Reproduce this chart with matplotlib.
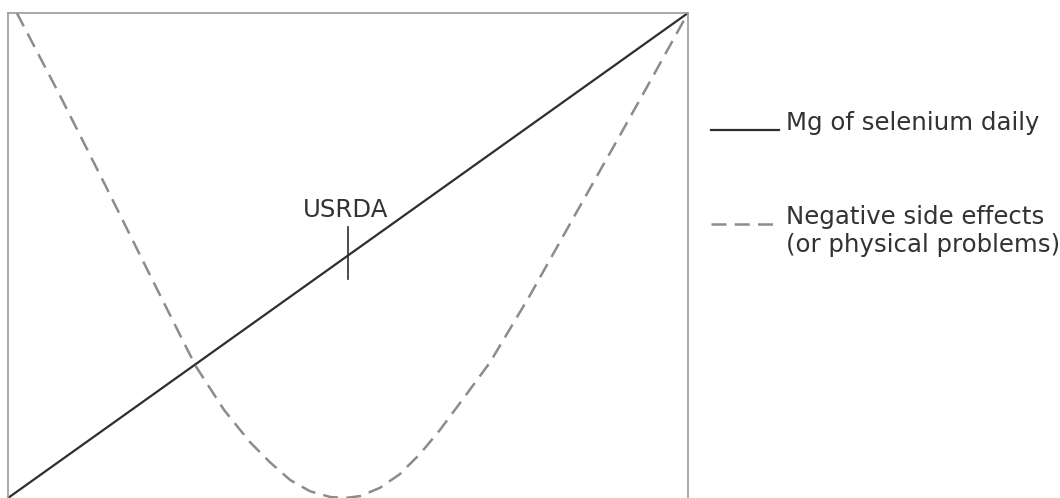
import matplotlib
matplotlib.use("Agg")
import matplotlib.pyplot as plt
from matplotlib.lines import Line2D

# ---- data (axis units 0..100) ----
dose_x = [0, 100]
dose_y = [0, 100]

side_x = [1.3, 7.6, 14.3, 20.9, 27.6, 31.8, 35.6, 38.5, 41.5, 44.4, 47.4, 49.6,
          51.8, 54.7, 57.6, 60.6, 63.5, 66.8, 70.9, 76.8, 83.4, 90.0, 95.1, 100.0]
side_y = [100.0, 83.1, 64.5, 45.9, 27.2, 18.1, 11.5, 7.4, 3.7, 1.4, 0.2, 0.0,
          0.4, 2.1, 4.9, 9.1, 14.0, 20.2, 28.0, 41.9, 58.4, 74.8, 87.6, 100.0]

usrda_x = 50.0
usrda_tick = [45.2, 55.9]
usrda_label = "USRDA"

legend_labels = ["Mg of selenium daily", "Negative side effects\n(or physical problems)"]

W, H = 1060, 498
fig = plt.figure(figsize=(W / 100, H / 100), dpi=100)
fig.patch.set_facecolor("white")

# axes box: px left 8, right 688, top 13, bottom 498
ax = fig.add_axes([8 / W, 0.0, 680 / W, 485 / H])
ax.set_xlim(0, 100)
ax.set_ylim(0, 100)
ax.set_xticks([])
ax.set_yticks([])
for name, sp in ax.spines.items():
    sp.set_color("#9a9a9a")
    sp.set_linewidth(1.2)
ax.spines["bottom"].set_visible(False)

text_color = "#333333"
solid_color = "#2e2e2e"
dash_color = "#8c8c8c"
dash_pattern = (6.0, 3.3)
fs = 17.6

ax.plot(dose_x, dose_y, color=solid_color, lw=1.6, solid_capstyle="butt", clip_on=False)
ax.plot(side_x, side_y, color=dash_color, lw=1.8, dashes=dash_pattern, clip_on=False)

ax.plot([usrda_x, usrda_x], usrda_tick, color=solid_color, lw=1.2)
ax.text(49.6, 57.9, usrda_label, ha="center", va="baseline", fontsize=fs,
        color=text_color, family="DejaVu Sans")

# legend drawn manually in pixel positions
def fx(px):
    return px / W

def fy(py):
    return 1 - py / H

fig.add_artist(Line2D([fx(711), fx(779)], [fy(130), fy(130)], color=solid_color, lw=1.6,
                      transform=fig.transFigure))
fig.add_artist(Line2D([fx(711), fx(779)], [fy(224), fy(224)], color=dash_color, lw=1.8,
                      dashes=dash_pattern, transform=fig.transFigure))
fig.text(fx(786), fy(130), legend_labels[0], ha="left", va="baseline", fontsize=fs,
         color=text_color, family="DejaVu Sans")
fig.text(fx(786), fy(224), legend_labels[1].split("\n")[0], ha="left", va="baseline",
         fontsize=fs, color=text_color, family="DejaVu Sans")
fig.text(fx(786), fy(252), legend_labels[1].split("\n")[1], ha="left", va="baseline",
         fontsize=fs, color=text_color, family="DejaVu Sans")

fig.savefig("out.png", dpi=100, facecolor="white")
